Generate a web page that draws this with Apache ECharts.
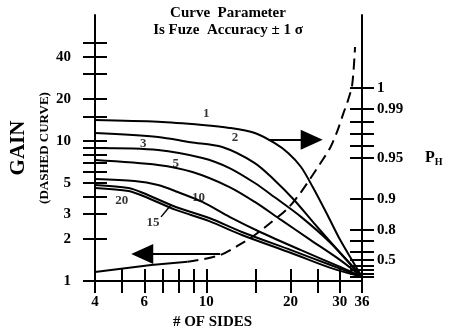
<!DOCTYPE html>
<html>
<head>
<meta charset="utf-8">
<script src="https://cdn.jsdelivr.net/npm/echarts@6/dist/echarts.min.js"></script>
<style>html,body{margin:0;padding:0;background:#fff}#c{width:449px;height:335px}</style>
</head>
<body>
<div id="c"></div>
<script>
// ---- data (x = number of sides, y = gain-scale value) ----
const sidesTicks = [4,5,6,7,8,9,10,15,20,25,30,36];
const sidesLabels = [4,6,10,20,30,36];
const gainTicks = [1,2,3,4,5,6,7,8,9,10,15,20,30,40,50];
const gainLabels = [1,2,3,5,10,20,40];
const phLabels = ['1','0.99','0.95','0.9','0.8','0.5'];
const phLabelGain = [23.9,16.9,7.56,3.85,2.31,1.41];
const phMinorGain = [13.7,11.2,9.21,1.93,1.61,1.28,1.198,1.122,1.068];

const curve1 = [[4,14.1],[6.72,13.7],[9.68,13.0],[12.1,12.4],[14.9,11.4],[17.5,9.68],[19.6,8.21],[21.8,6.52],[24.0,4.69],[27.1,2.96],[30.1,1.96],[36,1.07]];
const curve2 = [[4,11.4],[6.72,10.7],[8.78,9.8],[11.4,9.06],[14.9,6.96],[17.5,5.27],[20.6,3.79],[24.2,2.60],[30.1,1.585],[36,1.07]];
const curve3 = [[4,8.91],[6.72,8.63],[9.68,7.56],[12.1,6.41],[14.9,5.01],[17.5,3.98],[21.8,2.87],[27.8,1.87],[36,1.07]];
const curve5 = [[4,7.31],[6.72,6.74],[8.92,6.00],[12.1,4.69],[14.9,3.67],[18.5,2.73],[23.6,1.96],[30.1,1.41],[36,1.07]];
const curve10 = [[4,5.35],[5.53,5.18],[6.72,4.85],[7.90,4.32],[9.68,3.67],[12.1,2.87],[15.7,2.22],[21.8,1.66],[30.1,1.26],[36,1.07]];
const curve15 = [[4,4.85],[5.27,4.62],[5.95,4.25],[7.78,3.38],[10.24,2.82],[13.4,2.24],[20.1,1.66],[27.8,1.30],[36,1.07]];
const curve20 = [[4,4.62],[5.27,4.40],[5.95,4.05],[7.78,3.22],[10.24,2.68],[13.4,2.13],[20.1,1.585],[27.8,1.24],[36,1.07]];
const gainCurve = [[4,1.16],[6.35,1.30],[8.57,1.37],[11.2,1.53],[13.1,1.81],[14.9,2.13],[17.1,2.64],[19.6,3.32],[21.8,4.32],[23.6,5.44],[25.6,6.96],[27.8,9.06],[29.4,11.8],[30.9,15.8],[32.1,19.6],[33.2,25.1],[34.0,46.9]];
const curveNames = ['1','2','3','5','10','15','20'];
const curveLabelPos = [[10.0,15.8],[12.65,10.5],[5.95,9.52],[7.78,6.85],[9.37,3.92],[6.45,2.60],[4.98,3.73]];
const leader15 = [[6.89,2.87],[7.47,3.49]];
const arrowRight = [[16.7,10.2],[23.8,10.2]];
const arrowLeft = [[11.2,1.56],[5.90,1.56]];

const FONT = 'Liberation Serif';
const chart = echarts.init(document.getElementById('c'), null, {renderer:'canvas'});
const lbl = {fontFamily:FONT, fontWeight:'bold', fontSize:15, color:'#000'};
const axLine = {lineStyle:{color:'#000', width:2}};
const tickStyle = {color:'#000', width:2};
const phTicks = phLabelGain.concat(phMinorGain);

function near(v, arr){ return arr.findIndex(g => Math.abs(v/g - 1) < 1e-3); }

function xAx(inside){
  return {type:'log', logBase:10, min:4, max:36, position:'bottom', gridIndex:0,
    axisLine: inside ? {show:false} : axLine,
    axisTick:{show:true, inside:inside, length:12, customValues:sidesTicks, lineStyle:tickStyle},
    axisLabel: inside ? {show:false} : Object.assign({show:true, margin:14, customValues:sidesLabels,
      formatter: v => String(Math.round(v))}, lbl),
    splitLine:{show:false}, minorTick:{show:false},
    name: inside ? '' : '# OF SIDES', nameLocation:'middle', nameGap:34,
    nameTextStyle: Object.assign({padding:[0,32,0,0]}, lbl)};
}
function yAx(pos, inside, ticks, labels, fmt, name, gap, nameSize){
  return {type:'log', logBase:10, min:1, max:79.43, position:pos, gridIndex:0,
    axisLine: inside ? {show:false} : axLine,
    axisTick:{show:true, inside:inside, length:12, customValues:ticks, lineStyle:tickStyle},
    axisLabel: labels ? Object.assign({show:true, margin: pos==='left'?24:15, customValues:labels, formatter:fmt}, lbl) : {show:false},
    splitLine:{show:false}, minorTick:{show:false},
    name: name || '', nameLocation:'middle', nameGap: gap || 0,
    nameTextStyle:{fontFamily:FONT, fontWeight:'bold', fontSize:nameSize||15, color:'#000', padding:[0,0,0,0]}};
}

const curves = [curve1,curve2,curve3,curve5,curve10,curve15,curve20];
const series = curves.map((d,i) => ({
  type:'line', name:curveNames[i], data:d, xAxisIndex:0, yAxisIndex:0,
  showSymbol:false, smooth:0.3,
  lineStyle:{color:'#000', width:2}, silent:true, z:3
}));
series.push({type:'line', data:gainCurve.slice(0,3), xAxisIndex:0, yAxisIndex:0, showSymbol:false,
  lineStyle:{color:'#000', width:2}, silent:true});
series.push({type:'line', data:gainCurve.slice(2), xAxisIndex:0, yAxisIndex:0, showSymbol:false,
  smooth:0.3, lineStyle:{color:'#000', width:2, type:[11,6]}, silent:true});
series.push({type:'line', data:leader15, xAxisIndex:0, yAxisIndex:0, showSymbol:false,
  lineStyle:{color:'#000', width:1.5}, silent:true});
series.push({type:'scatter', xAxisIndex:0, yAxisIndex:0, symbolSize:0, silent:true,
  data: curveNames.map((n,i) => ({name:n, value:curveLabelPos[i]})),
  label:Object.assign({show:true, position:'inside', formatter:'{b}'}, lbl, {fontSize:13}),
  markLine:{silent:true, symbol:['none','triangle'], symbolSize:[20,22],
    lineStyle:{color:'#000', width:2, type:'solid'}, label:{show:false},
    itemStyle:{color:'#000'},
    data:[
      [{coord:arrowRight[0]},{coord:arrowRight[1]}],
      [{coord:arrowLeft[0]},{coord:arrowLeft[1]}]
    ]}
});

chart.setOption({
  backgroundColor:'#fff',
  animation:false,
  title:{text:'Curve  Parameter\nIs Fuze  Accuracy ± 1 σ', left:223, top:0, textAlign:'center',
    textStyle:{fontFamily:FONT, fontWeight:'bold', fontSize:15, lineHeight:17, color:'#000'}},
  grid:{left:91, right:87, top:15, bottom:54, containLabel:false},
  xAxis:[xAx(false), xAx(true)],
  yAxis:[
    yAx('left', false, gainTicks, gainLabels, v => String(Math.round(v)), 'GAIN', 66, 21),
    yAx('left', true, gainTicks, null, null, '(DASHED CURVE)', 44, 13),
    yAx('right', false, phTicks, phLabelGain, v => { const k = near(v, phLabelGain); return k>=0 ? phLabels[k] : ''; }),
    yAx('right', true, phTicks, null, null)
  ],
  graphic:[{type:'text', left:425, top:150, style:{
    text:'{p|P}{s|H}', rich:{p:{fontFamily:FONT, fontWeight:'bold', fontSize:16, fill:'#000'},
      s:{fontFamily:FONT, fontWeight:'bold', fontSize:10, fill:'#000', padding:[8,0,0,0]}}}}],
  series: series
});
</script>
</body>
</html>
